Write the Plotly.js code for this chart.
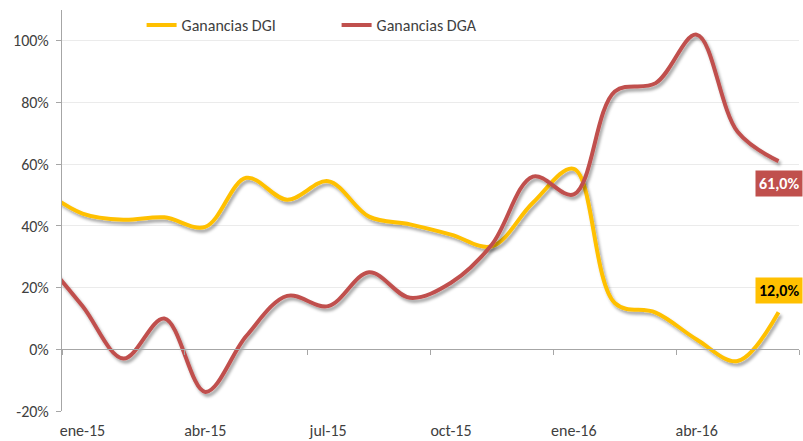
<!DOCTYPE html>
<html>
<head>
<meta charset="utf-8">
<script src="https://cdn.plot.ly/plotly-3.0.1.min.js"></script>
<style>
html,body{margin:0;padding:0;background:#fff;}
#chart{width:803px;height:441px;}
</style>
</head>
<body>
<div id="chart"></div>
<script>
// Months (dic-14 lies just outside the visible range; the line enters from the left edge)
const months = ['dic-14','ene-15','feb-15','mar-15','abr-15','may-15','jun-15','jul-15','ago-15','sep-15','oct-15','nov-15','dic-15','ene-16','feb-16','mar-16','abr-16','may-16','jun-16'];
const dgi = [52, 44, 42, 42.8, 39.7, 55.6, 48.5, 54.5, 43, 40.5, 37.2, 33.4, 47.5, 58.5, 15, 11.9, 3.2, -3.8, 12];
const dga = [30, 14, -3, 10, -13.8, 4.3, 17.3, 14, 25, 16.7, 21.6, 34, 56, 50.2, 83.6, 86.3, 102, 70.5, 61];
const tickLabels = ['ene-15','abr-15','jul-15','oct-15','ene-16','abr-16'];
const yTicks = [-20, 0, 20, 40, 60, 80, 100];
const seriesNames = ['Ganancias DGI', 'Ganancias DGA'];

const xIdx = months.map((m, i) => i - 1);   // ene-15 -> 0
const nVisible = months.length - 1;         // ene-15 .. jun-16
const xRange = [-0.5, nVisible - 0.5];
const yRange = [-20, 110];
const tickVals = tickLabels.map(l => months.indexOf(l) - 1);
const boundaryTicks = [];
for (let v = -0.5; v <= nVisible - 0.5 + 1e-9; v += 3) boundaryTicks.push(v);

const fontFam = 'Carlito, Lato, "Open Sans", sans-serif';
const colDGI = '#FFC000';
const colDGA = '#C0504D';

const fmt = v => v.toFixed(1).replace('.', ',') + '%';

const traces = [
  {x: xIdx, y: dgi, name: seriesNames[0], type: 'scatter', mode: 'lines',
   line: {color: colDGI, width: 4, shape: 'spline', smoothing: 1}, hoverinfo: 'skip'},
  {x: xIdx, y: dga, name: seriesNames[1], type: 'scatter', mode: 'lines',
   line: {color: colDGA, width: 4, shape: 'spline', smoothing: 1}, hoverinfo: 'skip'},
  {x: [0], y: [null], xaxis: 'x2', type: 'scatter', mode: 'lines', showlegend: false, hoverinfo: 'skip'}
];

const last = months.length - 1;
const layout = {
  width: 803, height: 441,
  margin: {l: 62, r: 4, t: 10, b: 30},
  paper_bgcolor: '#fff', plot_bgcolor: '#fff',
  font: {family: fontFam, size: 16, color: '#404040'},
  showlegend: true,
  legend: {orientation: 'h', x: 0.108, xanchor: 'left', y: 1.005, yanchor: 'top',
           font: {family: fontFam, size: 16, color: '#404040'},
           entrywidth: 150, entrywidthmode: 'pixels', bgcolor: 'rgba(0,0,0,0)'},
  xaxis: {range: xRange, tickvals: tickVals, ticktext: tickLabels,
          showgrid: false, zeroline: false, showline: false,
          ticks: 'outside', ticklen: 5, tickcolor: 'rgba(0,0,0,0)',
          tickfont: {family: fontFam, size: 16, color: '#404040'}, fixedrange: true},
  xaxis2: {range: xRange, overlaying: 'x', anchor: 'free',
           position: (0 - yRange[0]) / (yRange[1] - yRange[0]),
           tickvals: boundaryTicks, showticklabels: false,
           ticks: 'outside', ticklen: 5, tickcolor: '#a6a6a6', tickwidth: 1,
           showline: true, linecolor: '#a6a6a6', linewidth: 1,
           showgrid: false, zeroline: false, fixedrange: true},
  yaxis: {range: yRange, tickvals: yTicks, ticktext: yTicks.map(v => v + '%'),
          showgrid: true, gridcolor: '#ebebeb', gridwidth: 1,
          zeroline: false, showline: true, linecolor: '#a6a6a6', linewidth: 1,
          ticks: 'outside', ticklen: 5, tickcolor: '#a6a6a6', ticklabelstandoff: 4,
          tickfont: {family: fontFam, size: 16, color: '#404040'}, fixedrange: true},
  annotations: [
    {x: xIdx[last], y: dga[last], xref: 'x', yref: 'y', text: '<b>' + fmt(dga[last]) + '</b>',
     showarrow: false, xanchor: 'center', yanchor: 'middle', yshift: -22,
     bgcolor: colDGA, borderpad: 3, font: {family: fontFam, size: 16, color: '#ffffff'}},
    {x: xIdx[last], y: dgi[last], xref: 'x', yref: 'y', text: '<b>' + fmt(dgi[last]) + '</b>',
     showarrow: false, xanchor: 'center', yanchor: 'middle', yshift: 22,
     bgcolor: colDGI, borderpad: 3, font: {family: fontFam, size: 16, color: '#000000'}}
  ]
};

Plotly.newPlot('chart', traces, layout, {staticPlot: true, displayModeBar: false}).then(gd => {
  const svg = gd.querySelector('svg.main-svg');
  const NS = 'http://www.w3.org/2000/svg';
  let defs = svg.querySelector('defs');
  if (!defs) { defs = document.createElementNS(NS, 'defs'); svg.insertBefore(defs, svg.firstChild); }
  const f = document.createElementNS(NS, 'filter');
  f.setAttribute('id', 'lineShadow');
  f.setAttribute('x', '-10%'); f.setAttribute('y', '-10%');
  f.setAttribute('width', '120%'); f.setAttribute('height', '130%');
  const ds = document.createElementNS(NS, 'feDropShadow');
  ds.setAttribute('dx', '2'); ds.setAttribute('dy', '3'); ds.setAttribute('stdDeviation', '1.6');
  ds.setAttribute('flood-color', '#000'); ds.setAttribute('flood-opacity', '0.35');
  f.appendChild(ds); defs.appendChild(f);
  gd.querySelectorAll('.scatterlayer .trace path.js-line').forEach(p => p.setAttribute('filter', 'url(#lineShadow)'));
});
</script>
</body>
</html>
